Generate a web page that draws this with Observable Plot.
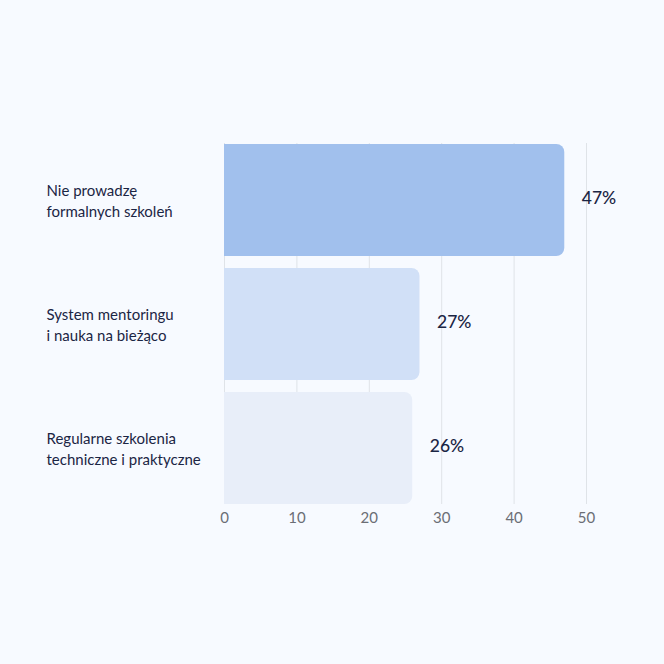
<!DOCTYPE html>
<html>
<head>
<meta charset="utf-8">
<script src="https://cdn.jsdelivr.net/npm/d3@7"></script>
<script src="https://cdn.jsdelivr.net/npm/@observablehq/plot@0.6"></script>
<style>
  html, body { margin: 0; padding: 0; background: #f7faff; }
  #chart svg { display: block; }
</style>
</head>
<body>
<div id="chart"></div>
<script>
const categories = [
  "Nie prowadzę\nformalnych szkoleń",
  "System mentoringu\ni nauka na bieżąco",
  "Regularne szkolenia\ntechniczne i praktyczne"
];
const values = [47, 27, 26];
const barColors = ["#a1c0ed", "#d1e0f7", "#e8eef9"];
const xTicks = [0, 10, 20, 30, 40, 50];

const data = categories.map((c, i) => ({ cat: c, value: values[i], color: barColors[i] }));

const chart = Plot.plot({
  width: 664,
  height: 664,
  marginLeft: 224,
  marginRight: 78,
  marginTop: 143,
  marginBottom: 160,
  style: { background: "#f7faff", fontFamily: "Lato, 'Noto Sans', sans-serif" },
  x: { domain: [0, 50], ticks: xTicks, label: null },
  y: { domain: categories, paddingInner: 0.097, paddingOuter: 0, label: null, axis: null },
  color: { type: "identity" },
  marks: [
    Plot.ruleX(xTicks, { stroke: "#dfe3e8", strokeWidth: 1 }),
    Plot.barX(data, { x: "value", y: "cat", fill: "color", rx2: 8, ry1: 0 }),
    Plot.text(data, {
      x: "value", y: "cat", text: d => d.value + "%",
      textAnchor: "start", dx: 17, dy: -2, fontSize: 17.5, fill: "#1b2544", fontWeight: 500
    }),
    Plot.text(data, {
      y: "cat", text: "cat", frameAnchor: "left", textAnchor: "start", dx: -178, dy: -1,
      fontSize: 15, lineHeight: 1.42, fill: "#1b2544"
    }),
    Plot.axisX({ ticks: xTicks, tickSize: 0, tickPadding: 8, fontSize: 15, color: "#6b6e75", label: null })
  ]
});
document.getElementById("chart").appendChild(chart);
</script>
</body>
</html>
